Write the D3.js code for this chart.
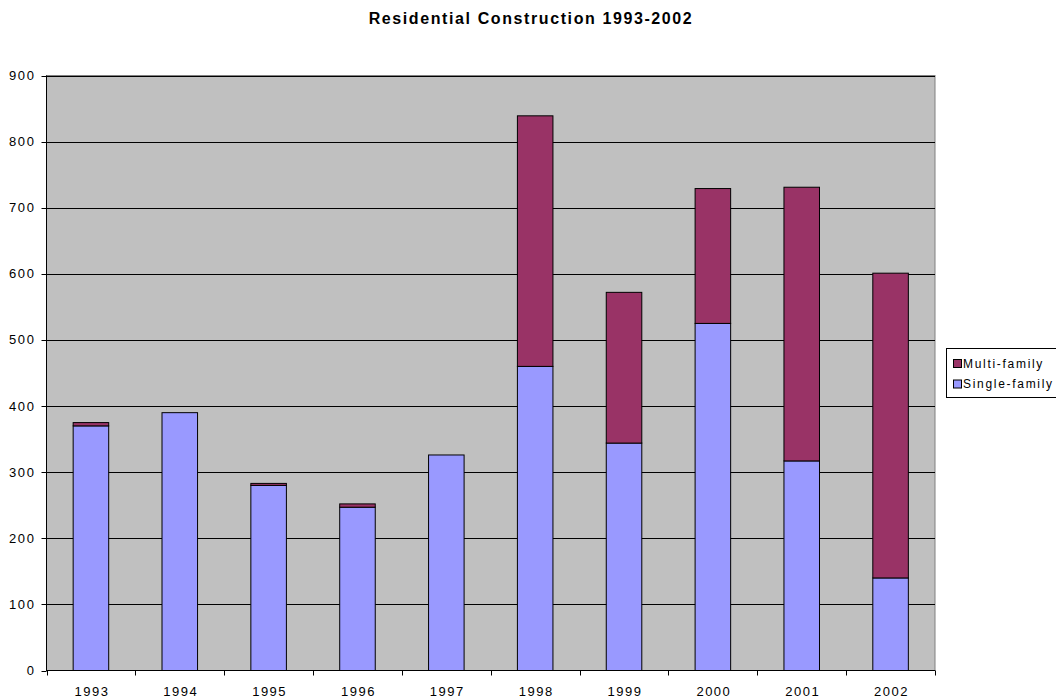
<!DOCTYPE html>
<html>
<head>
<meta charset="utf-8">
<script src="https://cdn.jsdelivr.net/npm/d3@7"></script>
<style>
  html, body { margin: 0; padding: 0; background: #ffffff; }
  svg { display: block; font-family: "Liberation Sans", Arial, sans-serif; }
</style>
</head>
<body>
<svg id="chart" width="1056" height="700"></svg>
<script>
// Residential construction by year, split by building type
const years = ["1993", "1994", "1995", "1996", "1997", "1998", "1999", "2000", "2001", "2002"];
const singleFamily = [370, 390, 280, 247, 326, 460, 344, 525, 317, 140];
const multiFamily  = [5, 0, 3, 5, 0, 379, 228, 204, 414, 461];
const yTicks = [0, 100, 200, 300, 400, 500, 600, 700, 800, 900];
const seriesNames = ["Single-family", "Multi-family"];
const seriesColors = ["#9999FF", "#993366"];

const rows = years.map((y, i) => ({ year: y, "Single-family": singleFamily[i], "Multi-family": multiFamily[i] }));

const svg = d3.select("#chart");
const plot = { left: 46.5, right: 935, top: 75.5, bottom: 670.5 };

const x = d3.scaleBand()
  .domain(years)
  .range([plot.left, plot.right])
  .paddingInner(0.6)
  .paddingOuter(0.3);

const y = d3.scaleLinear()
  .domain([0, 900])
  .range([plot.bottom, plot.top]);

// Title
svg.append("text")
  .attr("x", 531)
  .attr("y", 24)
  .attr("text-anchor", "middle")
  .attr("font-size", 16)
  .attr("font-weight", "bold")
  .attr("letter-spacing", 1.6)
  .attr("fill", "#000")
  .text("Residential Construction 1993-2002");

// Plot background
svg.append("rect")
  .attr("x", plot.left)
  .attr("y", plot.top)
  .attr("width", plot.right - plot.left)
  .attr("height", plot.bottom - plot.top)
  .attr("fill", "#C0C0C0")
  .attr("stroke", "#808080")
  .attr("stroke-width", 1);

// Horizontal gridlines
svg.append("g")
  .selectAll("line")
  .data(yTicks.filter(t => t > 0))
  .join("line")
  .attr("x1", plot.left)
  .attr("x2", plot.right)
  .attr("y1", d => Math.round(y(d)) + 0.5)
  .attr("y2", d => Math.round(y(d)) + 0.5)
  .attr("stroke", "#000")
  .attr("stroke-width", 1);

// Stacked bars
const stack = d3.stack().keys(seriesNames);
const layers = stack(rows);

svg.append("g")
  .selectAll("g")
  .data(layers)
  .join("g")
  .attr("fill", (d, i) => seriesColors[i])
  .selectAll("rect")
  .data(d => d.filter(p => p[1] - p[0] > 0))
  .join("rect")
  .attr("x", d => x(d.data.year))
  .attr("width", x.bandwidth())
  .attr("y", d => y(d[1]))
  .attr("height", d => y(d[0]) - y(d[1]))
  .attr("stroke", "#000")
  .attr("stroke-width", 1);

// Y axis
const yAxis = svg.append("g");
yAxis.append("line")
  .attr("x1", plot.left).attr("x2", plot.left)
  .attr("y1", plot.top).attr("y2", plot.bottom + 0.5)
  .attr("stroke", "#000");
yAxis.selectAll("line.tick")
  .data(yTicks)
  .join("line")
  .attr("class", "tick")
  .attr("x1", plot.left - 5).attr("x2", plot.left)
  .attr("y1", d => Math.round(y(d)) + 0.5)
  .attr("y2", d => Math.round(y(d)) + 0.5)
  .attr("stroke", "#000");
yAxis.selectAll("text")
  .data(yTicks)
  .join("text")
  .attr("x", 35.5)
  .attr("y", d => y(d) + 4.5)
  .attr("text-anchor", "end")
  .attr("font-size", 13)
  .attr("letter-spacing", 1.6)
  .attr("fill", "#000")
  .text(d => d);

// X axis
const xAxis = svg.append("g");
xAxis.append("line")
  .attr("x1", plot.left).attr("x2", plot.right)
  .attr("y1", plot.bottom).attr("y2", plot.bottom)
  .attr("stroke", "#000");
const step = x.step();
const boundaries = d3.range(years.length + 1).map(i => plot.left + i * step);
xAxis.selectAll("line.tick")
  .data(boundaries)
  .join("line")
  .attr("class", "tick")
  .attr("x1", d => Math.round(d) + 0.5).attr("x2", d => Math.round(d) + 0.5)
  .attr("y1", plot.bottom).attr("y2", plot.bottom + 5)
  .attr("stroke", "#000");
xAxis.selectAll("text")
  .data(years)
  .join("text")
  .attr("x", d => x(d) + x.bandwidth() / 2 + 1)
  .attr("y", 696)
  .attr("text-anchor", "middle")
  .attr("font-size", 13)
  .attr("letter-spacing", 1.5)
  .attr("fill", "#000")
  .text(d => d);

// Legend
const legend = svg.append("g");
legend.append("rect")
  .attr("x", 946.5)
  .attr("y", 348.5)
  .attr("width", 120)
  .attr("height", 49)
  .attr("fill", "#fff")
  .attr("stroke", "#000");
const legendItems = [
  { name: "Multi-family", color: seriesColors[1] },
  { name: "Single-family", color: seriesColors[0] }
];
const li = legend.selectAll("g.item")
  .data(legendItems)
  .join("g")
  .attr("class", "item")
  .attr("transform", (d, i) => `translate(0, ${i * 20.5})`);
li.append("rect")
  .attr("x", 953.5)
  .attr("y", 359.5)
  .attr("width", 8)
  .attr("height", 8)
  .attr("fill", d => d.color)
  .attr("stroke", "#000");
li.append("text")
  .attr("x", 963)
  .attr("y", 367.5)
  .attr("font-size", 12)
  .attr("letter-spacing", 1.7)
  .attr("fill", "#000")
  .text(d => d.name);
</script>
</body>
</html>
